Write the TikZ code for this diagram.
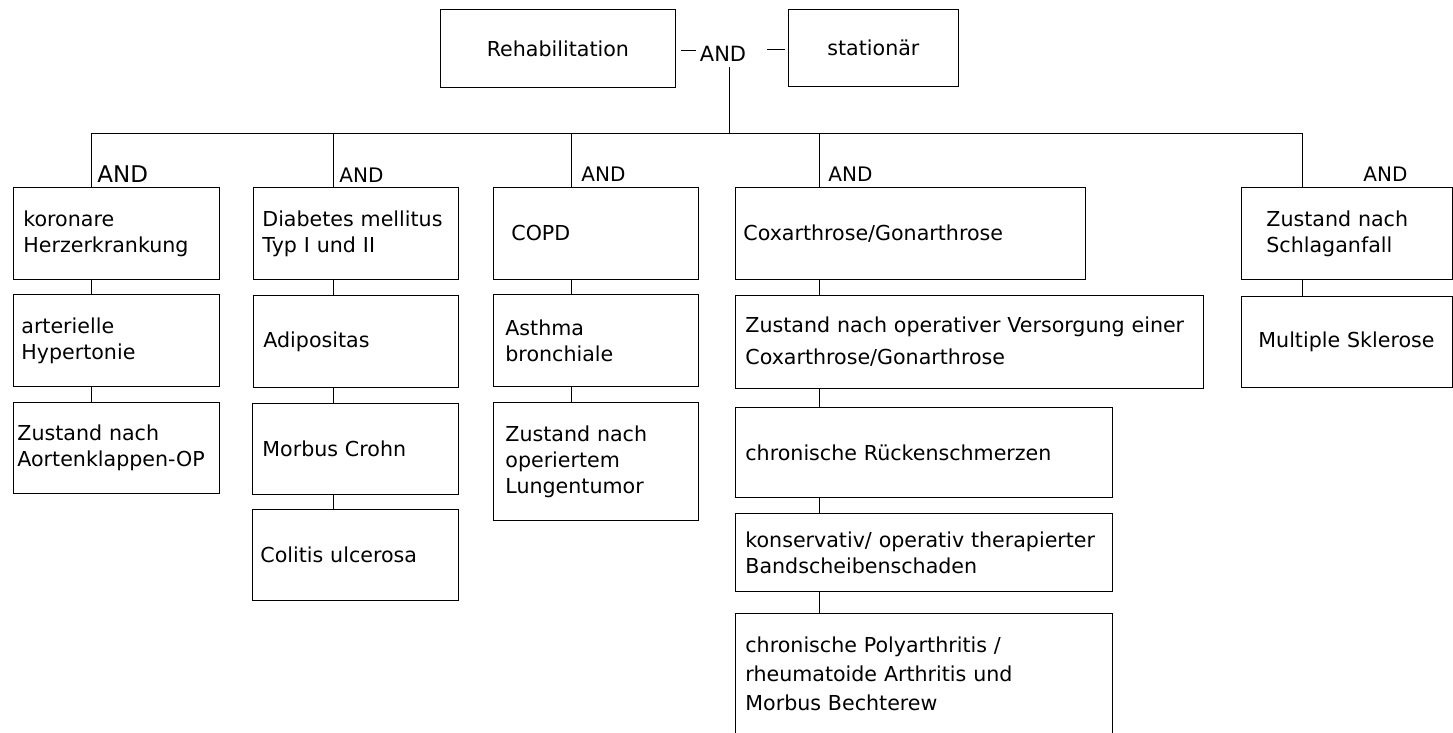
\documentclass[tikz,border=0pt]{standalone}
\usepackage{fontspec}
\setmainfont{DejaVu Sans}

\begin{document}
\begin{tikzpicture}[x=1pt,y=-1pt,line width=0.8pt,
    box/.style={draw,anchor=north west,align=left,inner ysep=0pt,font=\fontsize{20.6}{26}\selectfont},
    andlbl/.style={anchor=base west,inner sep=0pt,font=\fontsize{20}{24}\selectfont}]
    \useasboundingbox (0,0) rectangle (1453,733);

    \node[box,align=center,minimum width=235pt,minimum height=78pt] (reha) at (440,9) {Rehabilitation};
    \node[box,align=center,minimum width=170pt,minimum height=77pt] (stat) at (788,9) {stationär};
    \node[andlbl,anchor=base,font=\fontsize{21}{24}\selectfont] (and0) at (723,62) {AND};
    \coordinate (top) at (729,67);

    \coordinate (j1) at (91,133);
    \coordinate (j2) at (333,133);
    \coordinate (j3) at (571,133);
    \coordinate (j4) at (819,133);
    \coordinate (j5) at (1302,133);

    \node[andlbl,font=\fontsize{23}{26}\selectfont] (and1) at (97,182) {AND};
    \node[andlbl] (and2) at (339,182) {AND};
    \node[andlbl] (and3) at (581,181) {AND};
    \node[andlbl] (and4) at (828,181) {AND};
    \node[andlbl] (and5) at (1363,181) {AND};

    \node[box,inner xsep=10pt,text width=186pt,minimum height=92pt] (k1) at (13,187) {koronare\\Herzerkrankung};
    \node[box,inner xsep=8pt,text width=190pt,minimum height=92pt] (k2) at (13,294) {arterielle\\Hypertonie};
    \node[box,inner xsep=4pt,text width=198pt,minimum height=91pt] (k3) at (13,402) {Zustand nach\\Aortenklappen-OP};

    \node[box,inner xsep=9pt,text width=187pt,minimum height=92pt] (d1) at (253,187) {Diabetes mellitus\\Typ I und II};
    \node[box,inner xsep=10pt,text width=185pt,minimum height=92pt] (d2) at (253,295) {Adipositas};
    \node[box,inner xsep=10pt,text width=186pt,minimum height=91pt] (d3) at (252,403) {Morbus Crohn};
    \node[box,inner xsep=8pt,text width=190pt,minimum height=91pt] (d4) at (252,509) {Colitis ulcerosa};

    \node[box,inner xsep=18pt,text width=169pt,minimum height=92pt] (c1) at (493,187) {COPD};
    \node[box,inner xsep=12pt,text width=181pt,minimum height=92pt] (c2) at (493,294) {Asthma\\bronchiale};
    \node[box,inner xsep=12pt,text width=181pt,minimum height=118pt] (c3) at (493,402) {Zustand nach\\operiertem\\Lungentumor};

    \node[box,inner xsep=8pt,text width=334pt,minimum height=92pt] (x1) at (735,187) {Coxarthrose/Gonarthrose};
    \node[box,inner xsep=10pt,text width=448pt,minimum height=93pt,font=\fontsize{20.6}{32}\selectfont] (x2) at (735,295) {Zustand nach operativer Versorgung einer\\Coxarthrose/Gonarthrose};
    \node[box,inner xsep=10pt,text width=357pt,minimum height=90pt] (x3) at (735,407) {chronische Rückenschmerzen};
    \node[box,inner xsep=10pt,text width=357pt,minimum height=78pt] (x4) at (735,513) {konservativ/ operativ therapierter\\Bandscheibenschaden};
    \node[box,inner xsep=10pt,text width=357pt,minimum height=150pt,font=\fontsize{20.6}{29}\selectfont] (x5) at (735,613) {chronische Polyarthritis /\\rheumatoide Arthritis und\\Morbus Bechterew\\\mbox{}};

    \node[box,inner xsep=25pt,text width=161pt,minimum height=92pt] (s1) at (1241,187) {Zustand nach\\Schlaganfall};
    \node[box,inner xsep=17pt,text width=177pt,minimum height=91pt] (s2) at (1241,296) {Multiple Sklerose};

    \draw ([shift={(5pt,-2pt)}]reha.east) -- ([shift={(-3pt,-2pt)}]and0.west |- reha.east);
    \draw ([shift={(-3pt,-2pt)}]stat.west) -- ([shift={(20pt,-2pt)}]and0.east |- stat.west);
    \draw (top) -- (top |- j1);
    \draw (j1) -- (j5);
    \foreach \j/\a in {j1/k1,j2/d1,j3/c1,j4/x1,j5/s1}
        \draw (\j) -- (\a.north -| \j);
    \foreach \j/\a/\b in {j1/k1/k2,j1/k2/k3,j2/d1/d2,j2/d2/d3,j2/d3/d4,j3/c1/c2,j3/c2/c3,
                          j4/x1/x2,j4/x2/x3,j4/x3/x4,j4/x4/x5,j5/s1/s2}
        \draw (\a.south -| \j) -- (\b.north -| \j);
\end{tikzpicture}
\end{document}
